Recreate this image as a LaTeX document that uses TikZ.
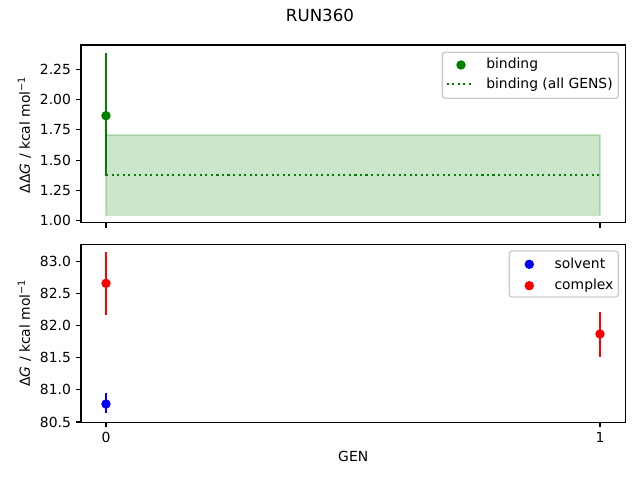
\documentclass[tikz,border=0pt]{standalone}
\usepackage{fontspec}
\setmainfont{DejaVu Sans}
\definecolor{mplgreen}{HTML}{008000}
\definecolor{mplblue}{HTML}{0000FF}
\definecolor{mplred}{HTML}{FF0000}
\begin{document}
\begin{tikzpicture}[x=0.72bp,y=-0.72bp,
  lab/.style={font=\fontsize{10bp}{12bp}\selectfont, inner sep=0pt},
  spine/.style={line width=0.8bp},
  tickmark/.style={line width=0.8bp},
  ebar/.style={line width=1.5bp},
  legbox/.style={draw=black!20, fill=white, fill opacity=0.8, rounded corners=2bp, line width=1bp}]
\useasboundingbox (0,0) rectangle (640,480);
% title
\node[font=\fontsize{12bp}{14bp}\selectfont, inner sep=0pt] (title) at (320,15.9) {RUN360};
% ---------- top axes ----------
\path[fill=mplgreen, draw=mplgreen, opacity=0.2, line width=1bp] (106,135) rectangle (600,215.3);
\draw[mplgreen, line width=1.5bp, dash pattern=on 1.5bp off 2.475bp] (106,175) -- (600,175);
\draw[mplgreen, ebar] (106,53.3) -- (106,176);
\fill[mplgreen] (106,115.7) circle[radius=3.4bp];
\draw[spine] (81,45) rectangle (625.3,222.7);
\foreach \xx in {106,600} \draw[tickmark] (\xx,222.7) -- (\xx,227.6);
\foreach \yy/\tl in {220.7/1.00,190.4/1.25,160.1/1.50,129.8/1.75,99.5/2.00,69.3/2.25} {
  \draw[tickmark] (81,\yy) -- (76.1,\yy);
  \node[lab, anchor=east] at (71.2,\yy) {\tl};
}
\node[lab, rotate=90] (ylabtop) at (24.5,134.7) {ΔΔ\textit{G} / kcal mol\textsuperscript{−1}};
% legend top
\draw[legbox] (442.3,52.3) rectangle (618.3,98.3);
\fill[mplgreen] (461,65) circle[radius=3.4bp];
\node[lab, anchor=base west] (legbind) at (486,69) {binding};
\draw[mplgreen, line width=1.5bp, dash pattern=on 1.5bp off 2.475bp] (446.7,84.3) -- (474,84.3);
\node[lab, anchor=base west] (legall) at (486,88.3) {binding (all GENS)};
% ---------- bottom axes ----------
\draw[mplred, ebar] (106,252.3) -- (106,315);
\fill[mplred] (106,283.3) circle[radius=3.4bp];
\draw[mplblue, ebar] (106,393.3) -- (106,413.3);
\fill[mplblue] (106,404) circle[radius=3.4bp];
\draw[mplred, ebar] (600,312) -- (600,356.7);
\fill[mplred] (600,334) circle[radius=3.4bp];
\draw[spine] (81,244.3) rectangle (625.3,422.3);
\foreach \xx/\tl in {106/0,600/1} {
  \draw[tickmark] (\xx,422.3) -- (\xx,427.2);
  \node[lab, anchor=north] at (\xx,431.8) {\tl};
}
\foreach \yy/\tl in {422/80.5,389.9/81.0,357.9/81.5,325.8/82.0,293.8/82.5,261.7/83.0} {
  \draw[tickmark] (81,\yy) -- (76.1,\yy);
  \node[lab, anchor=east] at (71.2,\yy) {\tl};
}
\node[lab, rotate=90] (ylabbot) at (24.5,333) {Δ\textit{G} / kcal mol\textsuperscript{−1}};
\node[lab] (xlab) at (353.2,456.7) {GEN};
% legend bottom
\draw[legbox] (509.3,251) rectangle (618.3,297);
\fill[mplblue] (529.3,264.3) circle[radius=3.4bp];
\node[lab, anchor=base west] (legsolv) at (554.3,268.3) {solvent};
\fill[mplred] (529.3,285.7) circle[radius=3.4bp];
\node[lab, anchor=base west] (legcomp) at (554.3,289.7) {complex};
\end{tikzpicture}
\end{document}
